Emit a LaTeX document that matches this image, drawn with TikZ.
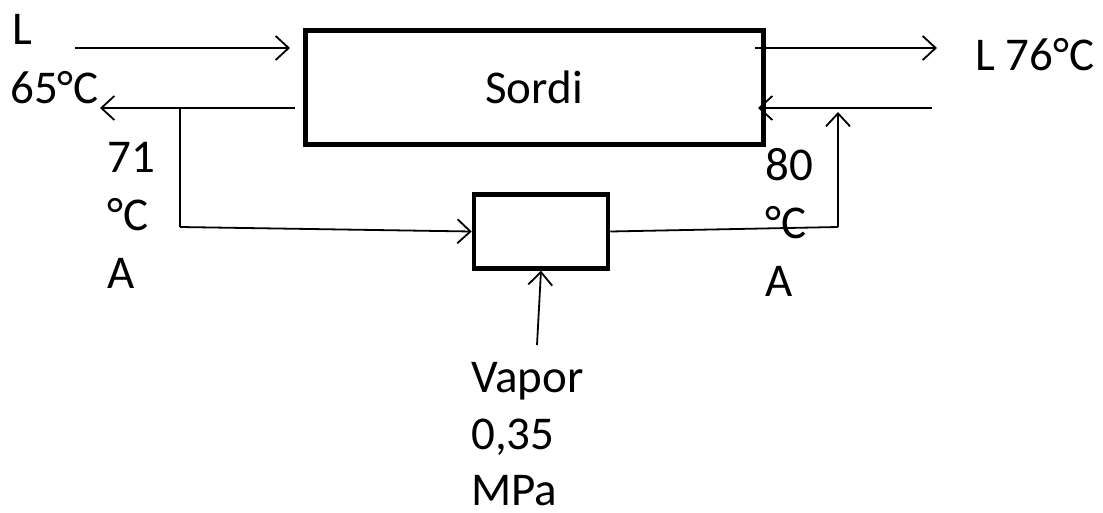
\documentclass[tikz,border=0pt]{standalone}
\usepackage{fontspec}
\setmainfont{Carlito}
\usetikzlibrary{arrows.meta}
\begin{document}
\begin{tikzpicture}[x=1pt,y=-1pt,
  lbl/.style={anchor=base west,inner sep=0pt,font=\fontsize{47}{56}\selectfont},
  arr/.style={line width=1.8pt,-{Straight Barb[length=13pt,width=24pt,line width=1.8pt]}},
  ln/.style={line width=1.8pt},
  bigbox/.style={draw,line width=5pt,minimum width=458pt,minimum height=114pt,inner sep=0pt},
  smallbox/.style={draw,line width=4.5pt,minimum width=134pt,minimum height=74pt,inner sep=0pt}]
\useasboundingbox (0,0) rectangle (1103,512);
\node[bigbox] (sordi) at (534,87) {};
\node[lbl,anchor=base] (sordiT) at (534,103) {Sordi};
\node[smallbox] (heat) at (541,231.5) {};
% coordinates
\coordinate (inL) at (75,48);
\coordinate (inLe) at (290,48);
\coordinate (outLs) at (295,108);
\coordinate (outLe) at (100,108);
\coordinate (br1) at (180,108);
\coordinate (br2) at (180,227);
\coordinate (rc1) at (838,227);
\coordinate (rc2) at (838,112);
\coordinate (inRs) at (932,108);
\coordinate (inRe) at (758,108);
\coordinate (outRs) at (755,48);
\coordinate (outRe) at (937,48);
\coordinate (vap) at (537,345);
% connectors
\draw[arr] (inL) -- (inLe);
\draw[arr] (outLs) -- (outLe);
\draw[ln] (br1) -- (br2);
\draw[arr] (br2) -- (heat.west);
\draw[ln] (heat.east) -- (rc1);
\draw[arr] (rc1) -- (rc2);
\draw[arr] (inRs) -- (inRe);
\draw[arr] (outRs) -- (outRe);
\draw[arr] (vap) -- (heat.south);
% labels
\node[lbl] (tL) at (12,44) {L};
\node[lbl] (t65) at (10,103) {65°C};
\node[lbl] (t71) at (107,172) {71};
\node[lbl] (t71c) at (107,230) {°C};
\node[lbl] (t71a) at (107,288) {A};
\node[lbl] (t76) at (975,70) {L 76°C};
\node[lbl] (t80) at (765,180) {80};
\node[lbl] (t80c) at (765,238) {°C};
\node[lbl] (t80a) at (765,296) {A};
\node[lbl] (tV) at (471,392) {Vapor};
\node[lbl] (tP) at (471,449) {0,35};
\node[lbl] (tM) at (471,505) {MPa};
\end{tikzpicture}
\end{document}
